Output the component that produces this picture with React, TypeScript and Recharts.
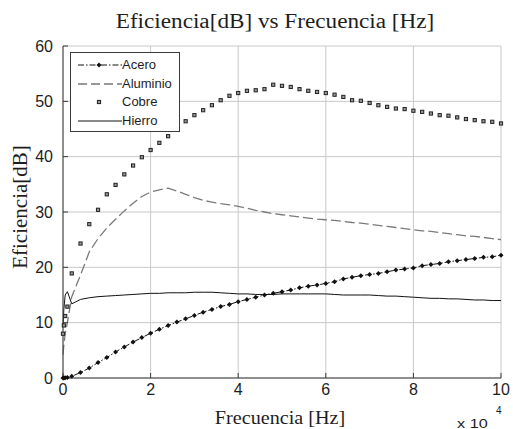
import { CartesianGrid, Line, LineChart, XAxis, YAxis } from "recharts";

// frecuencia en unidades de 1e4 Hz
const FRECUENCIA = [
  0, 0.02, 0.05, 0.1, 0.2, 0.4, 0.6, 0.8, 1.0, 1.2, 1.4, 1.6, 1.8, 2.0, 2.2, 2.4, 2.6, 2.8, 3.0, 3.2, 3.4, 3.6, 3.8,
  4.0, 4.2, 4.4, 4.6, 4.8, 5.0, 5.2, 5.4, 5.6, 5.8, 6.0, 6.2, 6.4, 6.6, 6.8, 7.0, 7.2, 7.4, 7.6, 7.8, 8.0, 8.2, 8.4,
  8.6, 8.8, 9.0, 9.2, 9.4, 9.6, 9.8, 10,
];

const ACERO = [
  0, 0, 0.05, 0.1, 0.3, 1.0, 1.8, 2.8, 3.7, 4.7, 5.6, 6.5, 7.3, 8.1, 8.8, 9.5, 10.1, 10.7, 11.3, 11.9, 12.4, 12.9, 13.3,
  13.8, 14.2, 14.6, 15.0, 15.3, 15.6, 15.9, 16.3, 16.6, 16.8, 17.1, 17.4, 17.9, 18.2, 18.5, 18.7, 18.9, 19.2, 19.5,
  19.7, 19.9, 20.3, 20.5, 20.7, 21.0, 21.2, 21.4, 21.6, 21.8, 21.9, 22.2,
];

const ALUMINIO = [
  4.2, 6.0, 8.0, 10.0, 14.7, 18.6, 22.8, 25.2, 27.1, 28.7, 30.2, 31.6, 32.8, 33.6, 34.0, 34.3, 33.8, 33.2, 32.6, 32.1,
  31.8, 31.5, 31.3, 31.0, 30.7, 30.3, 30.0, 29.7, 29.5, 29.3, 29.1, 28.9, 28.7, 28.6, 28.5, 28.3, 28.1, 28.0, 27.8,
  27.6, 27.4, 27.2, 27.0, 26.8, 26.6, 26.5, 26.3, 26.1, 25.9, 25.7, 25.6, 25.4, 25.2, 25.0,
];

const COBRE = [
  8.0, 9.5, 11.2, 12.9, 18.9, 24.3, 27.8, 30.4, 33.2, 34.9, 36.8, 38.4, 39.9, 41.2, 42.5, 43.7, 45.1, 46.4, 47.5, 48.4,
  49.3, 50.2, 51.0, 51.5, 51.9, 52.0, 52.2, 53.0, 52.8, 52.6, 52.2, 51.9, 51.7, 51.5, 51.2, 50.8, 50.2, 50.1, 49.7,
  49.3, 49.0, 48.7, 48.6, 48.3, 48.1, 47.8, 47.5, 47.4, 47.1, 46.8, 46.6, 46.4, 46.3, 46.0,
];

const HIERRO = [
  9.5, 12.5, 15.0, 15.6, 13.4, 14.2, 14.5, 14.7, 14.8, 14.9, 15.0, 15.1, 15.2, 15.3, 15.3, 15.4, 15.4, 15.4, 15.5,
  15.5, 15.5, 15.4, 15.3, 15.2, 15.2, 15.1, 15.1, 15.1, 15.2, 15.2, 15.2, 15.2, 15.2, 15.2, 15.1, 15.0, 15.0, 15.0,
  15.0, 14.9, 14.8, 14.8, 14.7, 14.6, 14.5, 14.4, 14.4, 14.3, 14.3, 14.2, 14.1, 14.1, 14.0, 14.0,
];

const X_TICKS = [0, 2, 4, 6, 8, 10];
const Y_TICKS = [0, 10, 20, 30, 40, 50, 60];
const SERIES = ["Acero", "Aluminio", "Cobre", "Hierro"];

const filas = FRECUENCIA.map((x, i) => ({
  x,
  acero: ACERO[i],
  aluminio: ALUMINIO[i],
  cobre: COBRE[i],
  hierro: HIERRO[i],
}));

const TEXTO = "#1e1e1e";
const EJE = "#3a3a3a";
const SANS = "'Liberation Sans', Arial, sans-serif";
const SERIF = "'Liberation Serif', 'Times New Roman', serif";

const estiloTick = { fontSize: 16, fontFamily: SANS, fill: TEXTO };

function puntoAcero(p: any) {
  const { cx, cy, index } = p;
  return <path key={`a${index}`} d={`M${cx - 2.5},${cy} L${cx},${cy - 2.5} L${cx + 2.5},${cy} L${cx},${cy + 2.5} Z`} fill="#111" />;
}

function puntoCobre(p: any) {
  const { cx, cy, index } = p;
  return <rect key={`c${index}`} x={cx - 1.6} y={cy - 1.6} width={3.2} height={3.2} fill="#999" stroke="#222" strokeWidth={1} />;
}

function MuestraLeyenda({ nombre }: { nombre: string }) {
  return (
    <svg width={44} height={12} style={{ display: "block" }}>
      {nombre === "Acero" && (
        <>
          <line x1={0} y1={6} x2={44} y2={6} stroke="#111" strokeDasharray="6 2 1.5 2" />
          <path d="M18.5,6 L21,3.5 L23.5,6 L21,8.5 Z" fill="#111" />
        </>
      )}
      {nombre === "Aluminio" && <line x1={0} y1={6} x2={44} y2={6} stroke="#777" strokeWidth={1.3} strokeDasharray="9 4" />}
      {nombre === "Cobre" && <rect x={19.4} y={4.4} width={3.2} height={3.2} fill="#999" stroke="#222" />}
      {nombre === "Hierro" && <line x1={0} y1={6} x2={44} y2={6} stroke="#111" />}
    </svg>
  );
}

export default function App() {
  return (
    <div style={{ position: "absolute", left: 0, top: 0, width: 513, height: 429, background: "#fff" }}>
      <LineChart width={513} height={429} data={filas} margin={{ top: 46, right: 12, bottom: 21, left: 0 }}>
        <CartesianGrid stroke="#c8c8c8" strokeWidth={1} />
        <XAxis
          dataKey="x"
          type="number"
          domain={[0, 10]}
          ticks={X_TICKS}
          height={30}
          tickSize={-5}
          tickMargin={11}
          stroke={EJE}
          tick={estiloTick}
          interval={0}
        />
        <YAxis
          type="number"
          domain={[0, 60]}
          ticks={Y_TICKS}
          width={63}
          tickSize={-5}
          tickMargin={15}
          stroke={EJE}
          tick={estiloTick}
          interval={0}
        />
        <Line dataKey="aluminio" stroke="#7a7a7a" strokeWidth={1.3} strokeDasharray="10 4" dot={false} isAnimationActive={false} />
        <Line dataKey="hierro" stroke="#111" strokeWidth={1} dot={false} isAnimationActive={false} />
        <Line dataKey="acero" stroke="#111" strokeWidth={1} strokeDasharray="6 2 1.5 2" dot={puntoAcero} isAnimationActive={false} />
        <Line dataKey="cobre" stroke="none" dot={puntoCobre} isAnimationActive={false} />
      </LineChart>

      <svg width={513} height={429} style={{ position: "absolute", left: 0, top: 0, pointerEvents: "none" }}>
        <text transform="translate(275,28) scale(1.16,1)" textAnchor="middle" fontSize={20} fontFamily={SERIF} fill={TEXTO}>
          Eficiencia[dB] vs Frecuencia [Hz]
        </text>
        <text transform="translate(280,424) scale(1.12,1)" textAnchor="middle" fontSize={18} fontFamily={SERIF} fill={TEXTO}>
          Frecuencia [Hz]
        </text>
        <text transform="translate(27,207) rotate(-90)" textAnchor="middle" fontSize={21} fontFamily={SERIF} fill={TEXTO}>
          Eficiencia[dB]
        </text>
        <text transform="translate(457,427.5) scale(1.25,1)" fontSize={13} fontFamily={SANS} fill={TEXTO}>
          x 10
        </text>
        <text x={496} y={414} fontSize={10} fontFamily={SANS} fill={TEXTO}>
          4
        </text>
      </svg>

      <div
        style={{
          position: "absolute",
          left: 70,
          top: 52,
          width: 108,
          height: 78,
          background: "#fff",
          border: `1px solid ${EJE}`,
          boxSizing: "content-box",
        }}
      >
        {SERIES.map((nombre, i) => (
          <div
            key={nombre}
            style={{ position: "absolute", left: 7, top: 5 + i * 18.7, height: 14, display: "flex", alignItems: "center" }}
          >
            <MuestraLeyenda nombre={nombre} />
            <span style={{ fontFamily: SANS, fontSize: 13, color: TEXTO, lineHeight: "14px" }}>{nombre}</span>
          </div>
        ))}
      </div>
    </div>
  );
}
